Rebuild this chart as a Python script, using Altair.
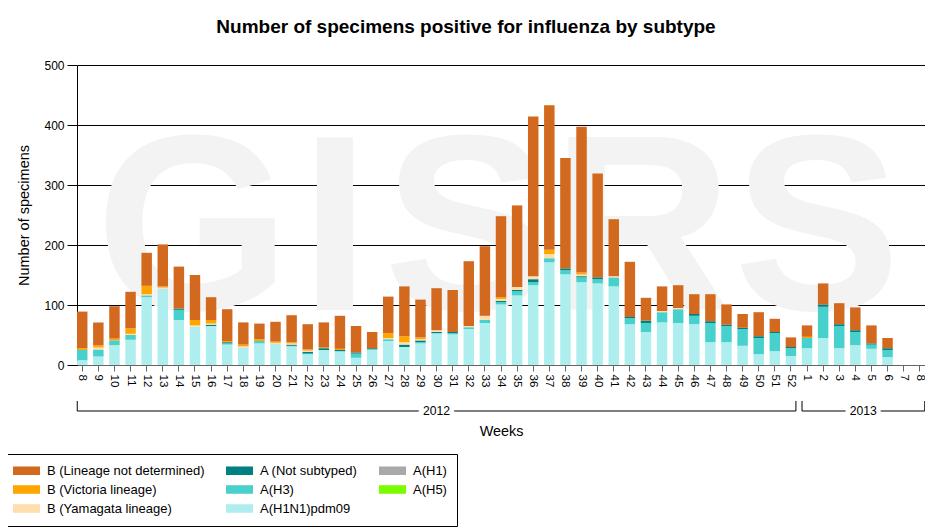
import altair as alt
import pandas as pd

# ---- data -----------------------------------------------------------------
weeks_2012 = list(range(8, 53))
weeks_2013 = list(range(1, 9))

# values per week: 2012 wk 8..52 followed by 2013 wk 1..8
b_lineage_nd = [61, 38, 54, 61, 55, 70, 70, 75, 38, 53, 37, 26, 33, 45, 42, 42, 55, 44, 27,
                61, 83, 63, 70, 70, 108, 116, 135, 136, 266, 241, 184, 243, 173, 95, 92, 38,
                41, 38, 33, 45, 34, 23, 40, 22, 16,
                19, 35, 35, 38, 30, 17, 0, 0]
b_victoria = [3, 4, 3, 9, 14, 2, 0, 9, 6, 2, 3, 3, 2, 2, 2, 1, 2, 0, 0,
              8, 10, 3, 0, 0, 0, 0, 3, 0, 0, 7, 0, 3, 0, 0, 0, 0,
              0, 0, 0, 0, 0, 0, 0, 0, 0,
              2, 0, 0, 0, 0, 0, 0, 0]
b_yamagata = [0, 3, 0, 2, 2, 2, 0, 2, 2, 0, 2, 0, 2, 2, 2, 0, 0, 0, 0,
              2, 4, 2, 3, 0, 2, 7, 3, 5, 5, 7, 0, 3, 0, 2, 0, 0,
              2, 2, 0, 0, 0, 0, 0, 0, 0,
              0, 0, 0, 0, 0, 0, 0, 0]
a_not_subtyped = [0, 0, 0, 0, 0, 0, 2, 0, 2, 2, 0, 0, 0, 2, 3, 3, 2, 2, 2,
                  0, 4, 3, 2, 2, 0, 0, 2, 2, 5, 0, 3, 2, 3, 0, 2, 4,
                  0, 0, 3, 3, 2, 2, 3, 2, 2,
                  0, 4, 3, 3, 2, 3, 0, 0]
a_h3 = [17, 12, 8, 8, 3, 0, 17, 0, 0, 2, 0, 4, 0, 1, 1, 0, 0, 7, 0,
        3, 0, 2, 0, 2, 3, 5, 4, 7, 5, 7, 7, 8, 7, 15, 10, 15,
        17, 23, 14, 32, 27, 28, 27, 30, 13,
        17, 52, 37, 22, 7, 12, 0, 0]
a_h1n1pdm09 = [8, 14, 33, 42, 113, 127, 75, 64, 65, 34, 29, 36, 35, 31, 18, 25, 23, 12, 26,
               40, 30, 36, 53, 51, 60, 70, 101, 116, 133, 171, 151, 138, 136, 131, 68, 55,
               71, 70, 68, 38, 38, 32, 18, 23, 15,
               28, 45, 28, 33, 27, 13, 0, 0]

series = {
    "A(H1N1)pdm09": a_h1n1pdm09,
    "A(H3)": a_h3,
    "A (Not subtyped)": a_not_subtyped,
    "B (Yamagata lineage)": b_yamagata,
    "B (Victoria lineage)": b_victoria,
    "B (Lineage not determined)": b_lineage_nd,
}
stack_order = {
    "A(H1N1)pdm09": 0, "A(H3)": 1, "A(H5)": 2, "A(H1)": 3,
    "A (Not subtyped)": 4, "B (Yamagata lineage)": 5,
    "B (Victoria lineage)": 6, "B (Lineage not determined)": 7,
}
# legend order (column-wise fill of a 3-column grid)
legend_domain = ["B (Lineage not determined)", "B (Victoria lineage)", "B (Yamagata lineage)",
                 "A (Not subtyped)", "A(H3)", "A(H1N1)pdm09",
                 "A(H1)", "A(H5)"]
legend_colors = ["#D2691E", "#FFA500", "#FFDEAD",
                 "#008080", "#48D1CC", "#AFEEEE",
                 "#A9A9A9", "#7CFC00"]

keys = [f"2012-{w}" for w in weeks_2012] + [f"2013-{w}" for w in weeks_2013]

rows = []
for name, vals in series.items():
    for k, v in zip(keys, vals):
        if v > 0:
            rows.append({"key": k, "subtype": name, "count": v, "ord": stack_order[name]})
df = pd.DataFrame(rows)

groups = pd.DataFrame({
    "year": ["2012", "2013"],
    "start": ["2012-8", "2013-1"],
    "end": ["2012-52", "2013-8"],
})
lab2012 = pd.DataFrame({"year": ["2012"], "mid": ["2012-30"]})
lab2013 = pd.DataFrame({"year": ["2013"], "mid": ["2013-4"]})

FONT = "Liberation Sans"
W, H = 848, 300

xscale = alt.Scale(type="band", domain=keys, paddingInner=0.35, paddingOuter=0)
xaxis = alt.Axis(
    title="Weeks", labelExpr="split(datum.value, '-')[1]", labelAngle=90,
    labelFontSize=11.5, labelPadding=3, tickSize=6, tickColor="#666666",
    domainColor="#666666", labelColor="black", titleFontSize=14.4,
    titleFontWeight="normal", titleY=66, titleBaseline="middle", grid=False,
)

def X(field):
    return alt.X(f"{field}:N", scale=xscale, axis=xaxis, sort=keys)

# faint background watermark
wm_layers = []
for letter, px in zip(["G", "I", "S", "R", "S"], [116, 258, 390, 565, 740]):
    wm_layers.append(
        alt.Chart(pd.DataFrame({"t": [letter]})).mark_text(
            font="Liberation Sans", fontWeight="bold", fontSize=250,
            color="#F3F3F3", align="center", baseline="alphabetic"
        ).encode(x=alt.value(px), y=alt.value(245), text="t:N")
    )

bars = alt.Chart(df).mark_bar().encode(
    x=X("key"),
    y=alt.Y("sum(count):Q", scale=alt.Scale(domain=[0, 500]),
            axis=alt.Axis(title="Number of specimens", values=[0, 100, 200, 300, 400, 500],
                          tickSize=10, tickColor="black", domainColor="black",
                          gridColor="black", gridOpacity=1, labelFontSize=12,
                          labelPadding=3, labelColor="black", titleFontSize=14.5,
                          titleFontWeight="normal", titleX=-53, titleY=150,
                          titleAlign="center", titleBaseline="middle", titleAngle=-90)),
    color=alt.Color("subtype:N",
                    scale=alt.Scale(domain=legend_domain, range=legend_colors),
                    legend=alt.Legend(
                        orient="none", legendX=-76, legendY=389, columns=3,
                        direction="vertical",
                        title=None, symbolType="M-3,-0.95H3V0.95H-3Z", symbolSize=81,
                        symbolOffset=9, symbolStrokeWidth=0, symbolOpacity=1,
                        labelFontSize=13, labelFont=FONT, labelColor="black",
                        labelOffset=14, padding=10, strokeColor="black",
                        fillColor="white", columnPadding=19, rowPadding=5,
                        labelLimit=0)),
    order=alt.Order("ord:Q", sort="ascending"),
)

hline = alt.Chart(groups).mark_rule(color="black", strokeWidth=1, xOffset=-5, x2Offset=5).encode(
    x=X("start"), x2="end:N", y=alt.value(346))
lend = alt.Chart(groups).mark_rule(color="black", strokeWidth=1, xOffset=-5).encode(
    x=X("start"), y=alt.value(336), y2=alt.value(346))
rend = alt.Chart(groups).mark_rule(color="black", strokeWidth=1, xOffset=5).encode(
    x=X("end"), y=alt.value(336), y2=alt.value(346))

def year_label(d, dx):
    halo = alt.Chart(d).mark_text(font=FONT, fontSize=12.2, color="white", stroke="white",
                                  strokeWidth=9, dx=dx, baseline="middle").encode(
        x=X("mid"), y=alt.value(346), text="year:N")
    txt = alt.Chart(d).mark_text(font=FONT, fontSize=12.2, color="black", dx=dx,
                                 baseline="middle").encode(
        x=X("mid"), y=alt.value(346), text="year:N")
    return [halo, txt]

layers = wm_layers + [bars, hline, lend, rend] + year_label(lab2012, 0) + year_label(lab2013, 8)

chart = alt.layer(*layers).properties(
    width=W, height=H,
    title=alt.TitleParams("Number of specimens positive for influenza by subtype",
                          fontSize=19, font=FONT, fontWeight="bold", anchor="middle",
                          dx=-35, offset=22, color="black"),
    autosize=alt.AutoSizeParams(type="none"),
    padding={"left": 69, "top": 57, "right": 0, "bottom": 162},
).configure_view(stroke=None).configure(font=FONT).configure_axis(
    labelFont=FONT, titleFont=FONT, titleColor="black")

chart.save("out.html", embed_options={"renderer": "svg", "actions": False})
